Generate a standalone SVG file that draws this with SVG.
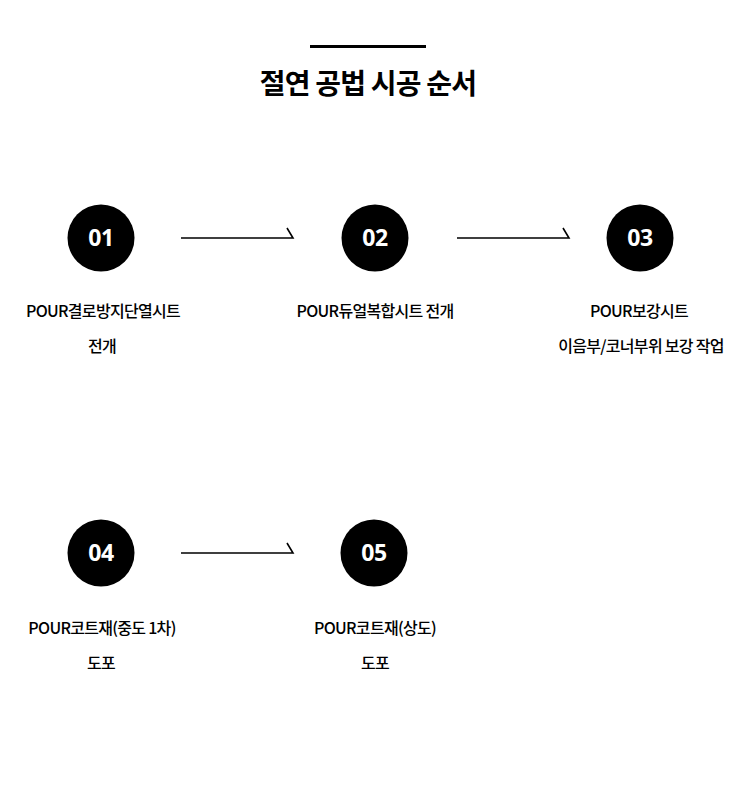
<svg xmlns="http://www.w3.org/2000/svg" width="750" height="800" viewBox="0 0 750 800">
<style>
.title{font-family:"Noto Sans CJK KR","Noto Sans",sans-serif;font-size:28px;font-weight:700;fill:#000;letter-spacing:-0.8px;text-anchor:middle}
.num{font-family:"Noto Sans","Noto Sans CJK KR",sans-serif;font-size:23px;font-weight:700;fill:#fff;text-anchor:middle;letter-spacing:-0.5px}
.lbl{font-family:"Noto Sans CJK KR","Noto Sans",sans-serif;font-size:16px;font-weight:500;fill:#000;text-anchor:middle;letter-spacing:-0.7px}
.dot{fill:#000}
.conn{fill:none;stroke:#000;stroke-width:1.6}
</style>
<rect width="750" height="800" fill="#fff"/>
<g id="header">
<rect x="310" y="45" width="116" height="3" fill="#000"/>
<text class="title" x="368" y="94">절연 공법 시공 순서</text>
</g>
<g id="connectors">
<path class="conn" d="M181 238 H293 L287 228"/>
<path class="conn" d="M457 238 H569 L563 228"/>
<path class="conn" d="M181 553 H293 L287 543"/>
</g>
<g id="step01">
<circle class="dot" cx="101" cy="238" r="33.5"/>
<text class="num" x="101" y="246">01</text>
<text class="lbl" x="103" y="317">POUR결로방지단열시트</text>
<text class="lbl" x="102" y="352">전개</text>
</g>
<g id="step02">
<circle class="dot" cx="375" cy="238" r="33.5"/>
<text class="num" x="375" y="246">02</text>
<text class="lbl" x="375" y="317">POUR듀얼복합시트 전개</text>
</g>
<g id="step03">
<circle class="dot" cx="640" cy="238" r="33.5"/>
<text class="num" x="640" y="246">03</text>
<text class="lbl" x="639" y="317">POUR보강시트</text>
<text class="lbl" x="641" y="352">이음부/코너부위 보강 작업</text>
</g>
<g id="step04">
<circle class="dot" cx="101" cy="553" r="33.5"/>
<text class="num" x="101" y="561">04</text>
<text class="lbl" x="102" y="634">POUR코트재(중도 1차)</text>
<text class="lbl" x="101" y="669">도포</text>
</g>
<g id="step05">
<circle class="dot" cx="374" cy="553" r="33.5"/>
<text class="num" x="374" y="561">05</text>
<text class="lbl" x="375" y="634">POUR코트재(상도)</text>
<text class="lbl" x="375" y="669">도포</text>
</g>
</svg>
